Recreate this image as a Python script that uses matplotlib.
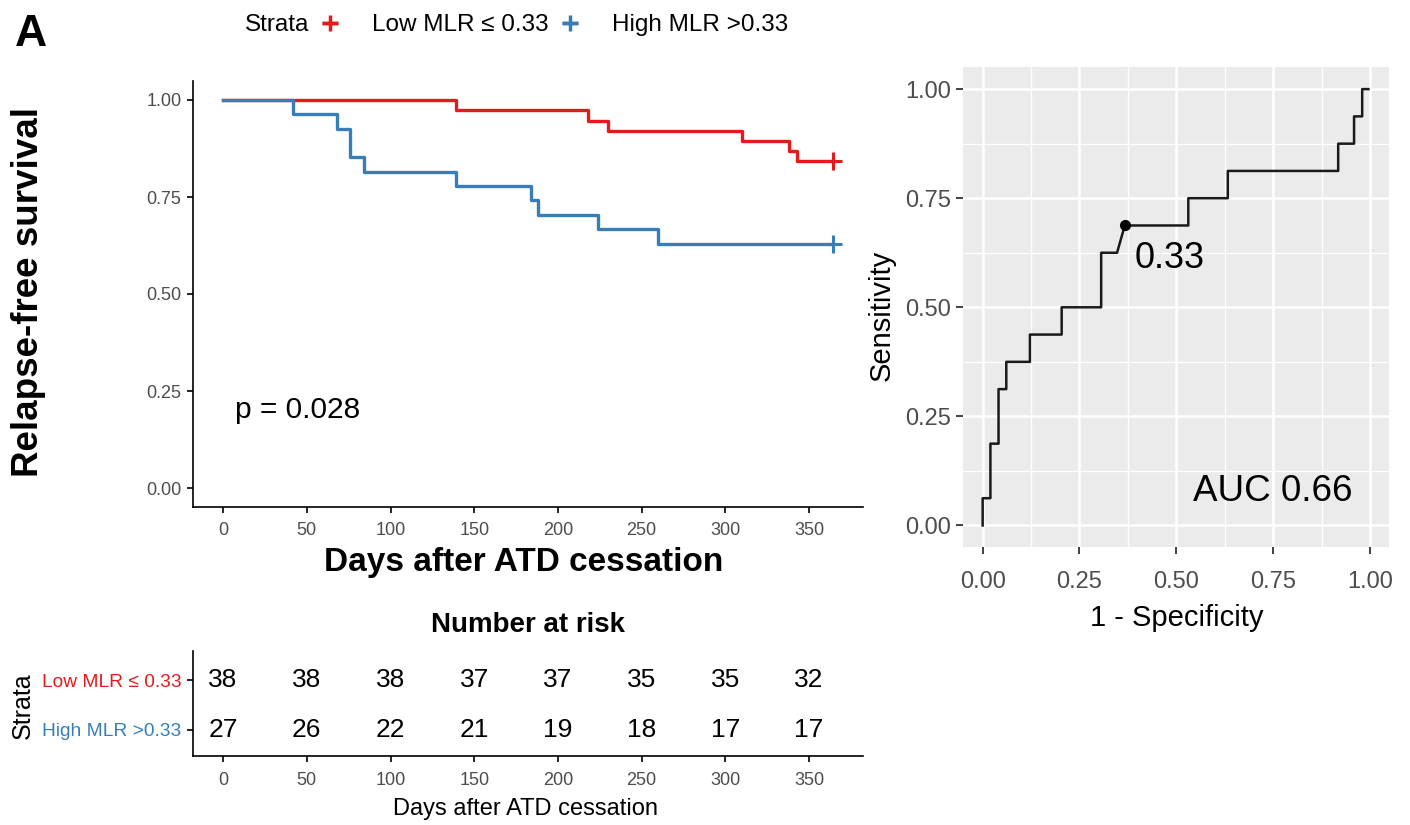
import numpy as np
import matplotlib
matplotlib.use('Agg')
import matplotlib.pyplot as plt
from matplotlib.lines import Line2D
from matplotlib.ticker import MultipleLocator

plt.rcParams['font.family'] = ['Liberation Sans', 'DejaVu Sans']

# Kaplan-Meier estimates, survival after each event (last point = censoring at 1 year)
low_days = [0, 139, 218, 230, 310, 338, 343, 364]
low_surv = [1.0, 0.974, 0.947, 0.921, 0.895, 0.868, 0.842, 0.842]
high_days = [0, 42, 68, 76, 84, 139, 184, 188, 224, 260, 364]
high_surv = [1.0, 0.963, 0.926, 0.852, 0.815, 0.778, 0.741, 0.704, 0.667, 0.630, 0.630]
pval_text = 'p = 0.028'

# number at risk table
risk_times = [0, 50, 100, 150, 200, 250, 300, 350]
risk_low = [38, 38, 38, 37, 37, 35, 35, 32]
risk_high = [27, 26, 22, 21, 19, 18, 17, 17]

strata_labels = ['Low MLR \u2264 0.33', 'High MLR >0.33']
strata_cols = ['#E41A1C', '#377EB8']

# ROC curve of MLR for relapse
fpr = [0.0, 0.0, 0.020, 0.020, 0.041, 0.041, 0.061, 0.061, 0.122, 0.122, 0.204, 0.204,
       0.306, 0.306, 0.347, 0.367, 0.531, 0.531, 0.633, 0.633, 0.918, 0.918, 0.959, 0.959,
       0.980, 0.980, 0.996]
tpr = [0.0, 0.0625, 0.0625, 0.1875, 0.1875, 0.3125, 0.3125, 0.375, 0.375, 0.4375, 0.4375, 0.5,
       0.5, 0.625, 0.625, 0.6875, 0.6875, 0.75, 0.75, 0.8125, 0.8125, 0.875, 0.875, 0.9375,
       0.9375, 1.0, 1.0]
cut_fpr, cut_tpr, cut_label = 0.367, 0.6875, '0.33'
auc_text = 'AUC 0.66'

W, H = 1410, 825
fig = plt.figure(figsize=(W / 100, H / 100), dpi=100)

def px_axes(l, t, r, b):
    return fig.add_axes([l / W, 1 - b / H, (r - l) / W, (b - t) / H])

def classic(ax):
    for s in ['top', 'right']:
        ax.spines[s].set_visible(False)
    for s in ['left', 'bottom']:
        ax.spines[s].set_linewidth(1.2)
    ax.tick_params(length=4.5, width=1.2, color='black', labelcolor='#4D4D4D', labelsize=13)

# --- survival curves ---
ax = px_axes(192.6, 80.6, 863, 507.4)
classic(ax)
ax.step(low_days, low_surv, where='post', color=strata_cols[0], lw=2.4)
ax.step(high_days, high_surv, where='post', color=strata_cols[1], lw=2.4)
ax.plot(low_days[-1], low_surv[-1], marker='+', color=strata_cols[0], ms=13, mew=2.2)
ax.plot(high_days[-1], high_surv[-1], marker='+', color=strata_cols[1], ms=13, mew=2.2)
ax.set_xlim(-18.2, 382.2)
ax.set_ylim(-0.05, 1.05)
ax.xaxis.set_major_locator(MultipleLocator(50))
ax.set_yticks([0, 0.25, 0.5, 0.75, 1.0])
ax.set_yticklabels(['0.00', '0.25', '0.50', '0.75', '1.00'])
ax.tick_params(axis='x', pad=6)
ax.text(7, 0.2, pval_text, fontsize=21.5, va='center', ha='left')
ax.set_xlabel('Days after ATD cessation', fontsize=24, fontweight='bold')
ax.xaxis.set_label_coords(0.494, -0.093)
ax.set_ylabel('Relapse-free survival', fontsize=26.5, fontweight='bold')
ax.yaxis.set_label_coords(-0.219, 0.505)

# legend across the top
fig.text(245 / W, 1 - 25 / H, 'Strata', fontsize=17.5, va='center', ha='left')
handles = [Line2D([], [], color=c, marker='+', lw=2.5, ms=11, mew=2.5) for c in strata_cols]
fig.legend(handles, strata_labels, loc='center left', bbox_to_anchor=(302 / W, 1 - 25 / H),
           ncol=2, frameon=False, handlelength=0.5, handletextpad=1.5, columnspacing=0.6,
           prop={'size': 17.5})

fig.text(15 / W, 1 - 34 / H, 'A', fontsize=32, fontweight='bold', va='center', ha='left')

# --- number at risk ---
rt = px_axes(192.6, 651, 863, 756)
classic(rt)
for t, a, b in zip(risk_times, risk_low, risk_high):
    rt.text(t, 2, str(a), ha='center', va='center', fontsize=19)
    rt.text(t, 1, str(b), ha='center', va='center', fontsize=19)
rt.set_xlim(-18.2, 382.2)
rt.set_ylim(0.465, 2.59)
rt.xaxis.set_major_locator(MultipleLocator(50))
rt.tick_params(axis='x', pad=7)
rt.set_yticks([2, 1])
rt.set_yticklabels(strata_labels)
for lab, c in zip(rt.get_yticklabels(), strata_cols):
    lab.set_color(c)
    lab.set_fontsize(13.8)
rt.set_xlabel('Days after ATD cessation', fontsize=17)
rt.xaxis.set_label_coords(0.496, -0.40)
rt.set_ylabel('Strata', fontsize=18)
rt.yaxis.set_label_coords(-0.235, 0.476)
rt.set_title('Number at risk', fontsize=20, fontweight='bold', pad=14)

# --- ROC curve ---
ra = px_axes(963.3, 67.3, 1389.3, 547.3)
ra.set_facecolor('#EBEBEB')
for s in ra.spines.values():
    s.set_visible(False)
ticks = [0, 0.25, 0.5, 0.75, 1.0]
ra.set_xticks(ticks)
ra.set_yticks(ticks)
ra.set_xticks([0.125, 0.375, 0.625, 0.875], minor=True)
ra.set_yticks([0.125, 0.375, 0.625, 0.875], minor=True)
ra.set_xticklabels(['0.00', '0.25', '0.50', '0.75', '1.00'])
ra.set_yticklabels(['0.00', '0.25', '0.50', '0.75', '1.00'])
ra.grid(which='major', color='white', lw=1.8)
ra.grid(which='minor', color='white', lw=1.0)
ra.set_axisbelow(True)
ra.tick_params(which='major', length=5, width=1.3, color='#333333', labelcolor='#4D4D4D',
               labelsize=17)
ra.tick_params(axis='x', pad=12)
ra.tick_params(which='minor', length=0)
ra.plot(fpr, tpr, color='#1A1A1A', lw=1.8)
ra.plot(cut_fpr, cut_tpr, 'o', color='black', ms=7)
ra.text(cut_fpr + 0.026, cut_tpr - 0.075, cut_label, fontsize=26, va='center', ha='left')
ra.text(0.543, 0.077, auc_text, fontsize=26.5, va='center', ha='left')
ra.set_xlim(-0.05, 1.05)
ra.set_ylim(-0.05, 1.05)
ra.set_xlabel('1 - Specificity', fontsize=21)
ra.xaxis.set_label_coords(0.502, -0.118)
ra.set_ylabel('Sensitivity', fontsize=21)
ra.yaxis.set_label_coords(-0.158, 0.484)

fig.savefig('out.png', dpi=100)
